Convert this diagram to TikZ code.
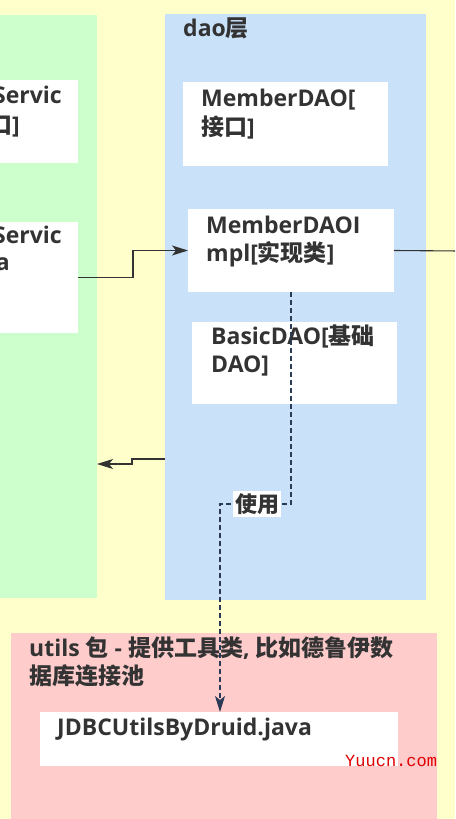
\documentclass[tikz,border=0pt]{standalone}
\usepackage{fontspec}
\setmainfont{Open Sans}
\newfontfamily\cjk{Noto Sans CJK SC}
\newfontfamily\wmfont{Liberation Mono}
\usetikzlibrary{arrows.meta}
\definecolor{bgyellow}{HTML}{FFFFCC}
\definecolor{pgreen}{HTML}{CCFFCC}
\definecolor{pblue}{HTML}{C9E2FA}
\definecolor{pred}{HTML}{FFCCCC}
\definecolor{txt}{HTML}{333333}
\definecolor{lineclr}{HTML}{333333}
\definecolor{dashclr}{HTML}{2B3A55}
\definecolor{wmred}{HTML}{E00000}
\begin{document}
\begin{tikzpicture}[x=1pt,y=-1pt,
  panel/.style={draw=none,inner sep=0pt,outer sep=0pt,anchor=north west},
  wbox/.style={fill=white,draw=none,inner sep=0pt,outer sep=0pt,anchor=north west},
  lbl/.style={anchor=base west,inner sep=0pt,text=txt,font=\fontsize{23}{28}\selectfont\bfseries},
  lble/.style={lbl,anchor=base east},
  conn/.style={draw=lineclr,line width=1.1pt},
  tip/.style={-{Stealth[length=16pt,width=10pt,inset=4pt]}},
  dconn/.style={draw=dashclr,line width=1.1pt,dash pattern=on 5pt off 3pt}
]
\useasboundingbox (0,0) rectangle (455,819);
\clip (0,0) rectangle (455,819);
\fill[bgyellow] (0,0) rectangle (455,819);
% panels
\node[panel,fill=pgreen,minimum width=98pt,minimum height=583pt] (green) at (-1,15) {};
\node[panel,fill=pblue,minimum width=261pt,minimum height=586pt] (blue) at (165,14) {};
\node[panel,fill=pred,minimum width=426pt,minimum height=190pt] (red) at (11,633) {};
% white boxes
\node[wbox,minimum width=80pt,minimum height=83pt] (g1) at (-2,80) {};
\node[wbox,minimum width=80pt,minimum height=111pt] (g2) at (-2,222) {};
\node[wbox,minimum width=205pt,minimum height=84pt] (dao) at (183,82) {};
\node[wbox,minimum width=206pt,minimum height=83pt] (impl) at (188,209) {};
\node[wbox,minimum width=205pt,minimum height=82pt] (basic) at (192,322) {};
\node[wbox,minimum width=358pt,minimum height=54pt] (jdbc) at (40,712) {};
% texts
\node[lbl] (tdao) at (183,36) {dao{\cjk 层}};
\node[lble] (tg1a) at (62,103) {MemberServic};
\node[lble] (tg1b) at (20,133) {e[{\cjk 接口}]};
\node[lble] (tg2a) at (62,243) {MemberServic};
\node[lble] (tg2b) at (10,270) {eImpl.java};
\node[lbl] (tdaoa) at (201,106) {MemberDAO[};
\node[lbl] (tdaob) at (201,135) {{\cjk 接口}]};
\node[lbl] (timpla) at (206,233) {MemberDAOI};
\node[lbl] (timplb) at (206,261) {mpl[{\cjk 实现类}]};
\node[lbl] (tbasa) at (211,344) {BasicDAO[{\cjk 基础}};
\node[lbl] (tbasb) at (211,372) {DAO]};
\node[lbl] (tuta) at (29,656) {utils {\cjk 包} - {\cjk 提供工具类}, {\cjk 比如德鲁伊数}};
\node[lbl] (tutb) at (29,684) {\cjk 据库连接池};
\node[lbl] (tjdbc) at (57,735) {JDBCUtilsByDruid.java};
% connectors
\coordinate (offR) at (460,251);
\draw[conn,tip] (g2.east) -- ++(55,0) |- (impl.west);
\draw[conn] (impl.east) -- (offR);
\coordinate (jogA) at (132,459);
\coordinate (jogB) at (132,464);
\draw[conn,tip] (blue.west |- jogA) -- (jogA) -- (jogB) -- (green.east |- jogB);
\coordinate (bend2) at (220,504);
\coordinate (bend1) at (impl.south |- bend2);
\draw[dconn,tip] (impl.south) -- (bend1) -- (bend2) -- (jdbc.north -| bend2);
\node[fill=white,inner sep=2pt,text=txt,font=\fontsize{22}{28}\selectfont\bfseries\cjk] (use) at (257,504) {使用};
% watermark
\node[anchor=base west,inner sep=0pt,text=wmred,font=\wmfont\fontsize{17}{20}\selectfont] (wm) at (345,766) {Yuucn.com};
\end{tikzpicture}
\end{document}
